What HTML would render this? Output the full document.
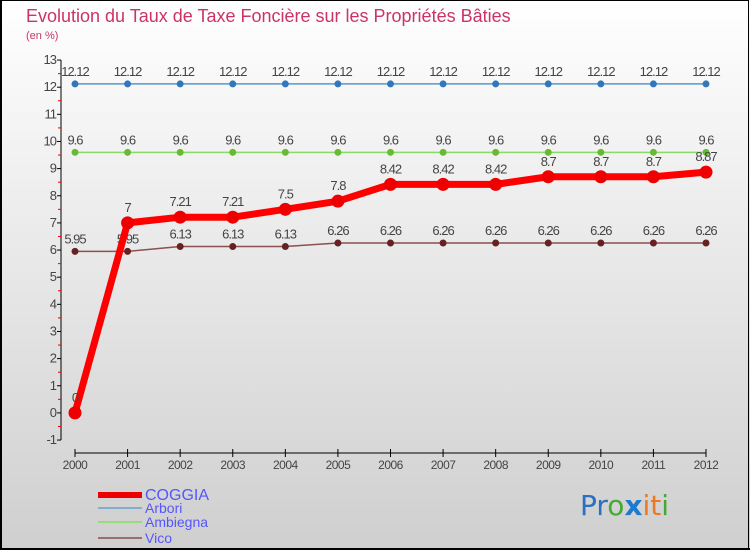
<!DOCTYPE html>
<html><head><meta charset="utf-8"><style>
body{margin:0;width:750px;height:550px;overflow:hidden;font-family:"Liberation Sans",sans-serif}
</style></head><body>
<svg id="c" width="750" height="550" xmlns="http://www.w3.org/2000/svg">
<defs><linearGradient id="bg" x1="0" y1="0" x2="0" y2="1"><stop offset="0" stop-color="#ffffff"/><stop offset="1" stop-color="#cfcfcf"/></linearGradient></defs>
<rect x="0" y="0" width="750" height="550" fill="url(#bg)"/>
<rect x="0.5" y="0.5" width="748" height="548" fill="none" stroke="#000" stroke-width="1"/>
<line x1="0" y1="549" x2="750" y2="549" stroke="#000" stroke-width="2"/>
<line x1="1" y1="0" x2="1" y2="550" stroke="#000" stroke-width="2"/>
<text x="26" y="22" font-size="18" fill="#cc3366">Evolution du Taux de Taxe Foncière sur les Propriétés Bâties</text>
<text x="26" y="39" font-size="11" fill="#cc3366">(en %)</text>
<g id="axes"></g><g id="series"></g><g id="legend"></g>
<text x="580" y="515" font-size="28" font-family="DejaVu Sans, sans-serif"><tspan fill="#2a6fc0">Pr</tspan><tspan fill="#44aa33">o</tspan><tspan fill="#1a7bd0" font-weight="bold">x</tspan><tspan fill="#ee7722">it</tspan><tspan fill="#44aa33">i</tspan></text>
</svg>
<script>
const years=[2000,2001,2002,2003,2004,2005,2006,2007,2008,2009,2010,2011,2012];
const coggia=[0,7,7.21,7.21,7.5,7.8,8.42,8.42,8.42,8.7,8.7,8.7,8.87];
const arbori=[12.12,12.12,12.12,12.12,12.12,12.12,12.12,12.12,12.12,12.12,12.12,12.12,12.12];
const ambiegna=[9.6,9.6,9.6,9.6,9.6,9.6,9.6,9.6,9.6,9.6,9.6,9.6,9.6];
const vico=[5.95,5.95,6.13,6.13,6.13,6.26,6.26,6.26,6.26,6.26,6.26,6.26,6.26];
const yTicks=[-1,0,1,2,3,4,5,6,7,8,9,10,11,12,13];
const NS="http://www.w3.org/2000/svg";
const X=i=>75+i*(706-75)/(years.length-1);
const Y=v=>412.9-v*27.143;
function mk(p,t,a){const e=document.createElementNS(NS,t);for(const k in a)e.setAttribute(k,a[k]);p.appendChild(e);return e;}
const ax=document.getElementById('axes');
mk(ax,'line',{x1:61,y1:Y(13),x2:61,y2:Y(-1),stroke:'#000'});
yTicks.forEach(v=>{mk(ax,'line',{x1:57,y1:Y(v),x2:61,y2:Y(v),stroke:'#000'});
 if(v<13)mk(ax,'line',{x1:58,y1:Y(v+0.5),x2:61,y2:Y(v+0.5),stroke:'#e00'});
 const t=mk(ax,'text',{x:56,y:Y(v)+4,'font-size':13,fill:'#444','text-anchor':'end','letter-spacing':'-1'});t.textContent=v;
 
 });
mk(ax,'line',{x1:X(0),y1:453,x2:X(12),y2:453,stroke:'#000'});
years.forEach((y,i)=>{mk(ax,'line',{x1:X(i),y1:449,x2:X(i),y2:457,stroke:'#000'});
 const t=mk(ax,'text',{x:X(i),y:469,'font-size':12,fill:'#444','text-anchor':'middle','letter-spacing':'-0.5'});t.textContent=y;
 
 });
const sg=document.getElementById('series');
function series(name,vals,col,w,r,dot){
 const g=mk(sg,'g',{});
 
 
 mk(g,'polyline',{points:vals.map((v,i)=>X(i)+','+Y(v)).join(' '),fill:'none',stroke:col,'stroke-width':w,'stroke-linejoin':'round'});
 vals.forEach((v,i)=>{const c=mk(g,'circle',{cx:X(i),cy:Y(v),r:r,fill:dot});
  
  
  const t=mk(g,'text',{x:X(i),y:Y(v)-(w>3?11:8),'font-size':13,fill:'#444','text-anchor':'middle','letter-spacing':'-1'});t.textContent=v;});
}
series('vico',vico,'#8b5050',1.5,3.5,'#662222');
series('ambiegna',ambiegna,'#88dd66',1.5,3.5,'#66bb33');
series('arbori',arbori,'#5599cc',1.5,3.5,'#3377bb');
series('coggia',coggia,'#ff0000',7,6.5,'#ee0000');
const lg=document.getElementById('legend');
const items=[['COGGIA','#ee0000',6,495,16],['Arbori','#88aacc',2,508,14],['Ambiegna','#99dd77',2,522,14],['Vico','#997070',2,538,14]];
items.forEach(it=>{const g=mk(lg,'g',{});
 
 
 mk(g,'line',{x1:98,y1:it[3],x2:142,y2:it[3],stroke:it[1],'stroke-width':it[2]});
 const t=mk(g,'text',{x:145,y:it[3]+5,'font-size':it[4],fill:'#5555ff'});t.textContent=it[0];});
</script>
</body></html>
